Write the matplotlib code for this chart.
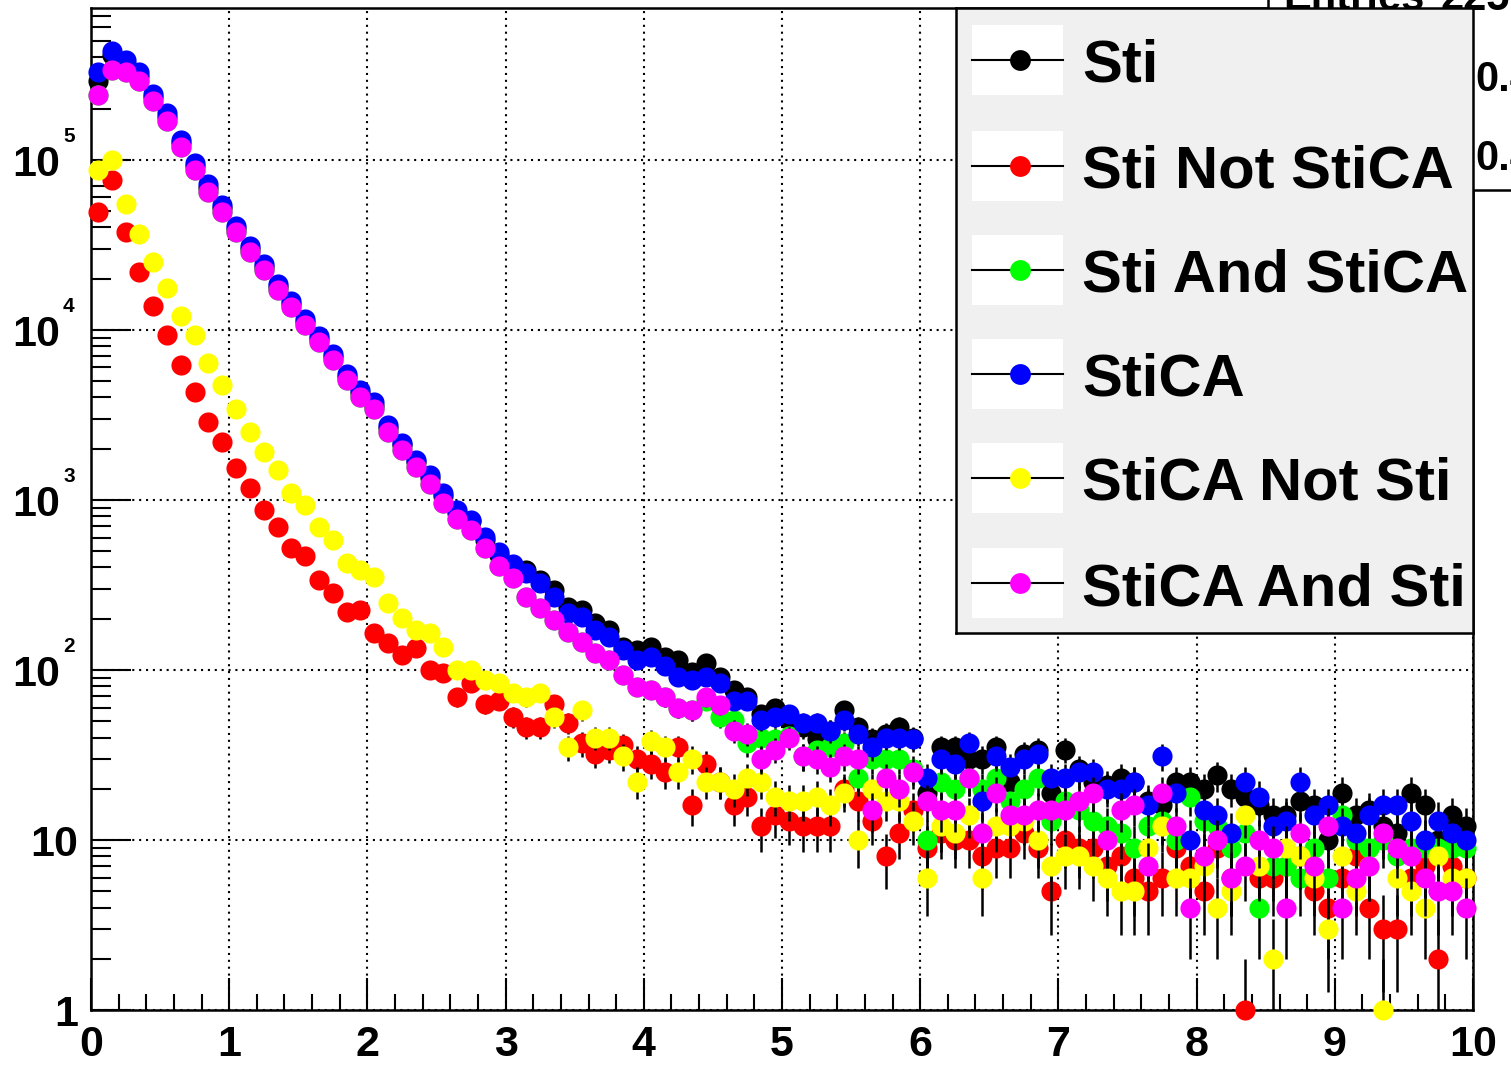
import numpy as np
import matplotlib
matplotlib.use("Agg")
from matplotlib import pyplot as plt
from matplotlib.patches import Rectangle
import matplotlib.transforms as mtransforms
import matplotlib.ticker as mticker

plt.rcParams['font.family'] = ['Liberation Sans', 'DejaVu Sans']
plt.rcParams['font.weight'] = 'bold'

# 100 bins of width 0.1 from 0 to 10
bin_edges = np.linspace(0, 10, 101)

sti = [290000, 411000, 367000, 312000, 234000, 179000, 125000, 91300, 67900, 51700,
       39200, 29900, 23400, 17900, 14100, 11100, 8840, 6940, 5300, 4260,
       3570, 2640, 2090, 1680, 1340, 1060, 840, 750, 583, 476,
       398, 385, 338, 295, 233, 225, 188, 172, 136, 131,
       136, 119, 115, 97, 110, 91, 76, 69, 55, 60,
       51, 46, 39, 44, 58, 46, 39, 42, 46, 40,
       19, 35, 35, 30, 30, 35, 22, 32, 34, 19,
       34, 26, 22, 21, 23, 22, 17, 16, 22, 22,
       20, 24, 20, 18, 16, 14, 14, 17, 16, 10,
       19, 14, 15, 12, 11, 19, 16, 10, 14, 12]

sti_not_stica = [49500, 76000, 37500, 21900, 13800, 9300, 6240, 4300, 2850, 2200,
                 1530, 1170, 870, 695, 520, 465, 338, 284, 220, 225,
                 165, 144, 122, 134, 100, 96, 69, 84, 63, 66,
                 53, 46, 46, 63, 49, 37, 32, 34, 36, 30,
                 28, 25, 35, 16, 28, 22, 16, 18, 12, 14,
                 13, 12, 12, 12, 20, 17, 13, 8, 11, 15,
                 9, 11, 10, 10, 8, 9, 9, 11, 9, 5,
                 10, 9, 9, 7, 8, 6, 5, 6, 9, 7,
                 5, 9, 6, 1, 6, 6, 7, 8, 5, 4,
                 6, 8, 4, 3, 3, 6, 7, 2, 7, 6]

sti_and_stica = [241000, 335000, 330000, 290000, 220000, 170000, 119000, 87000, 65000, 49500,
                 37700, 28700, 22500, 17200, 13600, 10600, 8500, 6660, 5080, 4030,
                 3400, 2500, 1970, 1550, 1240, 960, 770, 665, 520, 410,
                 345, 268, 230, 197, 168, 146, 125, 115, 93, 79,
                 76, 69, 60, 58, 66, 53, 51, 37, 40, 39,
                 41, 31, 34, 35, 37, 23, 30, 30, 30, 26,
                 10, 22, 20, 23, 20, 23, 17, 20, 23, 13,
                 17, 15, 13, 12, 11, 9, 12, 13, 10, 18,
                 13, 12, 9, 11, 4, 7, 7, 6, 9, 6,
                 14, 10, 9, 10, 8, 9, 9, 9, 9, 9]

stica = [330000, 435000, 385000, 327000, 245000, 187000, 131000, 96000, 71500, 54000,
         41000, 31200, 24400, 18700, 14700, 11500, 9200, 7240, 5500, 4420,
         3750, 2750, 2170, 1720, 1400, 1100, 870, 765, 607, 494,
         420, 370, 325, 268, 215, 205, 172, 157, 131, 115,
         119, 105, 91, 87, 91, 84, 66, 66, 51, 53,
         55, 49, 49, 44, 51, 42, 35, 40, 40, 39,
         23, 30, 28, 37, 17, 31, 27, 30, 32, 23,
         23, 25, 25, 20, 20, 22, 16, 31, 19, 10,
         15, 14, 11, 22, 18, 12, 13, 22, 14, 16,
         12, 11, 14, 16, 16, 13, 10, 13, 11, 10]

stica_not_sti = [87000, 100000, 54600, 36500, 25000, 17500, 12000, 9300, 6400, 4720,
                 3400, 2500, 1900, 1490, 1100, 930, 695, 580, 425, 385,
                 352, 248, 202, 172, 165, 136, 100, 100, 87, 84,
                 73, 69, 73, 53, 35, 58, 40, 40, 31, 22,
                 38, 35, 25, 30, 22, 22, 20, 23, 22, 18,
                 17, 17, 18, 16, 19, 10, 20, 17, 17, 13,
                 6, 12, 11, 14, 6, 12, 12, 13, 10, 7,
                 8, 8, 7, 6, 5, 5, 9, 12, 6, 6,
                 7, 4, 5, 14, 7, 2, 9, 8, 6, 3,
                 8, 5, 7, 1, 6, 5, 4, 8, 6, 6]

stica_and_sti = [241000, 335000, 330000, 290000, 220000, 170000, 119000, 87000, 65000, 49500,
                 37700, 28700, 22500, 17200, 13600, 10600, 8500, 6660, 5080, 4030,
                 3400, 2500, 1970, 1550, 1240, 960, 770, 665, 520, 410,
                 345, 268, 230, 197, 168, 146, 125, 115, 93, 79,
                 76, 69, 60, 58, 69, 62, 44, 42, 30, 34,
                 40, 31, 30, 27, 31, 30, 15, 23, 20, 25,
                 17, 15, 15, 23, 11, 19, 14, 14, 15, 15,
                 15, 17, 19, 10, 15, 16, 7, 19, 12, 4,
                 8, 10, 6, 7, 10, 9, 4, 11, 7, 12,
                 4, 6, 7, 11, 9, 8, 6, 5, 5, 4]

names = ["Sti", "Sti Not StiCA", "Sti And StiCA", "StiCA", "StiCA Not Sti", "StiCA And Sti"]
colors = ["#000000", "#ff0000", "#00ff00", "#0000ff", "#ffff00", "#ff00ff"]
series = [sti, sti_not_stica, sti_and_stica, stica, stica_not_sti, stica_and_sti]

W, H = 1511, 1071
fig = plt.figure(figsize=(W / 100, H / 100), dpi=100)
fig.patch.set_facecolor('white')

def fx(px):
    return px / W

def fy(py):
    return 1 - py / H

ax = fig.add_axes([fx(91), fy(1010), (1473 - 91) / W, (1010 - 8) / H])

x = 0.5 * (bin_edges[:-1] + bin_edges[1:])
for i, (vals, col) in enumerate(zip(series, colors)):
    v = np.array(vals, dtype=float)
    err = np.sqrt(v)
    lo = np.clip(v - err, 1e-3, None)
    ax.vlines(x, lo, v + err, color='black', lw=1.8, zorder=3 + 2 * i)
    ax.plot(x, v, 'o', ms=14.5, mew=0, color=col, zorder=4 + 2 * i, clip_on=False)

ax.set_xlim(0, 10)
ax.set_yscale('log')
ax.set_ylim(1, 7.8e5)

ax.xaxis.set_major_locator(mticker.MultipleLocator(1))
ax.xaxis.set_minor_locator(mticker.MultipleLocator(0.2))
ax.yaxis.set_major_locator(mticker.LogLocator(base=10, numticks=20))
ax.yaxis.set_minor_locator(mticker.LogLocator(base=10, subs=np.arange(2, 10), numticks=20))
ax.yaxis.set_major_formatter(mticker.NullFormatter())
ax.yaxis.set_minor_formatter(mticker.NullFormatter())

ax.tick_params(axis='x', which='major', direction='in', length=23, width=1.5,
               labelsize=31, pad=11, top=False)
ax.tick_params(axis='x', which='minor', direction='in', length=11.5, width=1.5, top=False)
ax.tick_params(axis='y', which='major', direction='in', length=29, width=1.5, right=False)
ax.tick_params(axis='y', which='minor', direction='in', length=14.5, width=1.5, right=False)
for s in ax.spines.values():
    s.set_linewidth(1.8)

ax.set_axisbelow(True)
ax.grid(True, which='major', color='black', linestyle=(0, (1, 2.3)), linewidth=1.5)

# ROOT style y labels: 1, 10, 10^2 ...
ytrans = mtransforms.blended_transform_factory(ax.transAxes, ax.transData)

def off(dx, dy):
    return ytrans + mtransforms.ScaledTranslation(dx / 100, dy / 100, fig.dpi_scale_trans)

ax.text(0, 1, '1', transform=off(-13, -16), ha='right', va='baseline', fontsize=31)
ax.text(0, 10, '10', transform=off(-13, -16), ha='right', va='baseline', fontsize=31)
for n in range(2, 6):
    ax.text(0, 10 ** n, '10', transform=off(-31, -16), ha='right', va='baseline', fontsize=31)
    ax.text(0, 10 ** n, str(n), transform=off(-28, 18), ha='left', va='baseline', fontsize=15)

# stats box, mostly hidden behind the legend (only its edge shows)
sax = fig.add_axes([fx(1268), fy(190), (1530 - 1268) / W, 210 / H])
sax.set_facecolor('white')
sax.set_xticks([])
sax.set_yticks([])
for s in sax.spines.values():
    s.set_linewidth(1.8)
sax.text(fx(1283), fy(10), 'Entries', transform=fig.transFigure, fontsize=30, va='baseline')
sax.text(fx(1440), fy(10), '225', transform=fig.transFigure, fontsize=30, va='baseline')
sax.text(fx(1475), fy(91), '0.4', transform=fig.transFigure, fontsize=30, va='baseline')
sax.text(fx(1475), fy(170), '0.4', transform=fig.transFigure, fontsize=30, va='baseline')

# legend drawn by hand, ROOT TLegend look
lax = fig.add_axes([fx(956), fy(633), (1473 - 956) / W, (633 - 8) / H])
lax.set_xlim(956, 1473)
lax.set_ylim(633, 8)
lax.set_facecolor('#f0f0f0')
lax.set_xticks([])
lax.set_yticks([])
for s in lax.spines.values():
    s.set_linewidth(1.8)
rows = [60, 166, 270, 374, 478, 583]
for name, col, yc in zip(names, colors, rows):
    lax.add_patch(Rectangle((972, yc - 35), 91, 70, facecolor='white', edgecolor='none'))
    lax.plot([972, 1063], [yc, yc], color='black', lw=1.5)
    lax.plot([1020], [yc], 'o', ms=15, mew=0, color=col)
    lax.text(1082, yc + 22, name, fontsize=43, va='baseline')

fig.savefig('out.png', dpi=100)
